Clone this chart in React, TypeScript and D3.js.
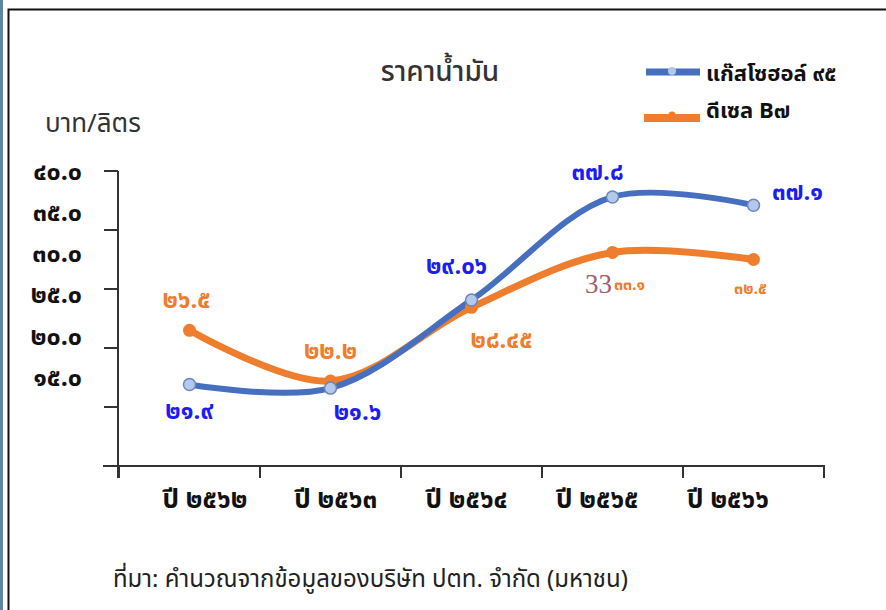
import React from 'react'
import * as d3 from 'd3'

// data
const years = ['ปี ๒๕๖๒', 'ปี ๒๕๖๓', 'ปี ๒๕๖๔', 'ปี ๒๕๖๕', 'ปี ๒๕๖๖']
const gasohol95 = [21.9, 21.6, 29.06, 37.8, 37.1]
const dieselB7 = [26.5, 22.2, 28.45, 33.1, 32.5]
const gasoholLabels = ['๒๑.๙', '๒๑.๖', '๒๙.๐๖', '๓๗.๘', '๓๗.๑']
const dieselLabels = ['๒๖.๕', '๒๒.๒', '๒๘.๔๕', '๓๓.๑', '๓๒.๕']
const yTicks = [40, 35, 30, 25, 20, 15]
const yTickLabels = ['๔๐.๐', '๓๕.๐', '๓๐.๐', '๒๕.๐', '๒๐.๐', '๑๕.๐']

// label placement relative to each point
const gasOffsets = [[0, 34], [27, 32], [-15, -26], [-15, -17], [44, -5]]
const dieOffsets = [[-3, -22], [0, -22], [30, 41], [17, 38], [-3, 34]]

const W = 886
const H = 610
const FONT = "Tahoma, 'Noto Sans Thai', 'Noto Sans', sans-serif"
const BLUE = '#4670bf'
const ORANGE = '#ee7d2e'

export default function App() {
  const x = d3.scaleBand<string>().domain(years).range([119, 824])
  const y = d3.scaleLinear().domain([15, 40]).range([466, 171])
  // tick labels in the picture sit on squeezed bands, not on the ticks
  const yLab = d3.scaleLinear().domain([15, 40]).range([377, 171])
  const xLab = d3.scalePoint<string>().domain(years).range([205, 728])
  const cx = (i: number) => (x(years[i]) as number) + x.bandwidth() / 2

  const line = d3.line<number>()
    .x((d, i) => cx(i))
    .y(d => y(d))
    .curve(d3.curveCatmullRom.alpha(0.5))

  const bandEdges = years.map(c => x(c) as number).concat([824])

  return (
    <svg width={W} height={H} style={{ position: 'absolute', left: 0, top: 0, background: '#fff' }}
      fontFamily={FONT}>
      <rect x={0} y={0} width={W} height={H} fill="#fff" />
      <rect x={0} y={0} width={3} height={H} fill="#5f86a0" />
      <path d={`M8.5,${H} V9.5 H${W}`} fill="none" stroke="#111" strokeWidth={2} />

      <text x={440} y={81} textAnchor="middle" fontSize={28} fontWeight={500} fill="#333">ราคาน้ำมัน</text>
      <text x={45} y={132} fontSize={26} fill="#333">บาท/ลิตร</text>

      {/* y axis */}
      <line x1={118} x2={118} y1={171} y2={478} stroke="#333" strokeWidth={2} />
      {yTicks.filter(t => t > 15).map(t => (
        <line key={t} x1={104} x2={118} y1={y(t)} y2={y(t)} stroke="#333" strokeWidth={2} />
      ))}
      {yTicks.map((t, i) => (
        <text key={t} x={82} y={yLab(t)} dy="0.35em" textAnchor="end" fontSize={25}
          fontWeight="bold" fill="#111">{yTickLabels[i]}</text>
      ))}

      {/* x axis */}
      <line x1={103} x2={825} y1={466} y2={466} stroke="#333" strokeWidth={2} />
      {bandEdges.map((e, i) => (
        <line key={i} x1={e} x2={e} y1={466} y2={478} stroke="#333" strokeWidth={2} />
      ))}
      {years.map(c => (
        <text key={c} x={xLab(c)} y={508} textAnchor="middle" fontSize={26} fontWeight="bold"
          fill="#111">{c}</text>
      ))}

      {/* series */}
      <path d={line(dieselB7) as string} fill="none" stroke={ORANGE} strokeWidth={7}
        strokeLinecap="round" />
      <path d={line(gasohol95) as string} fill="none" stroke={BLUE} strokeWidth={6}
        strokeLinecap="round" />
      {dieselB7.map((v, i) => (
        <circle key={i} cx={cx(i)} cy={y(v)} r={6.5} fill={ORANGE} />
      ))}
      {gasohol95.map((v, i) => (
        <circle key={i} cx={cx(i)} cy={y(v)} r={6} fill="#b3c9ec" stroke="#6d86b8" strokeWidth={1.5} />
      ))}

      {/* value labels */}
      {gasohol95.map((v, i) => (
        <text key={i} x={cx(i) + gasOffsets[i][0]} y={y(v) + gasOffsets[i][1]} textAnchor="middle"
          fontSize={24} fontWeight="bold" fill="#1c1cf5">{gasoholLabels[i]}</text>
      ))}
      {dieselB7.map((v, i) => (
        <text key={i} x={cx(i) + dieOffsets[i][0]} y={y(v) + dieOffsets[i][1]} textAnchor="middle"
          fontSize={i >= 3 ? 16 : 24} fontWeight="bold" fill={ORANGE}>{dieselLabels[i]}</text>
      ))}
      <text x={cx(3) - 14} y={y(dieselB7[3]) + 41} textAnchor="middle" fontSize={27}
        fontFamily="'Liberation Serif', serif" fill="#a3606e">33</text>

      {/* legend */}
      <line x1={646} x2={700} y1={72} y2={72} stroke={BLUE} strokeWidth={7} />
      <circle cx={672} cy={71} r={4} fill="#b3c9ec" />
      <text x={706} y={81} fontSize={22} fontWeight="bold" fill="#111">แก๊สโซฮอล์ ๙๕</text>
      <line x1={644} x2={700} y1={118} y2={118} stroke={ORANGE} strokeWidth={8} />
      <circle cx={672} cy={115} r={3.5} fill={ORANGE} />
      <text x={706} y={118} fontSize={22} fontWeight="bold" fill="#111">ดีเซล B๗</text>

      <text x={113} y={587} fontSize={24} fill="#222">ที่มา: คำนวณจากข้อมูลของบริษัท ปตท. จำกัด (มหาชน)</text>
    </svg>
  )
}
